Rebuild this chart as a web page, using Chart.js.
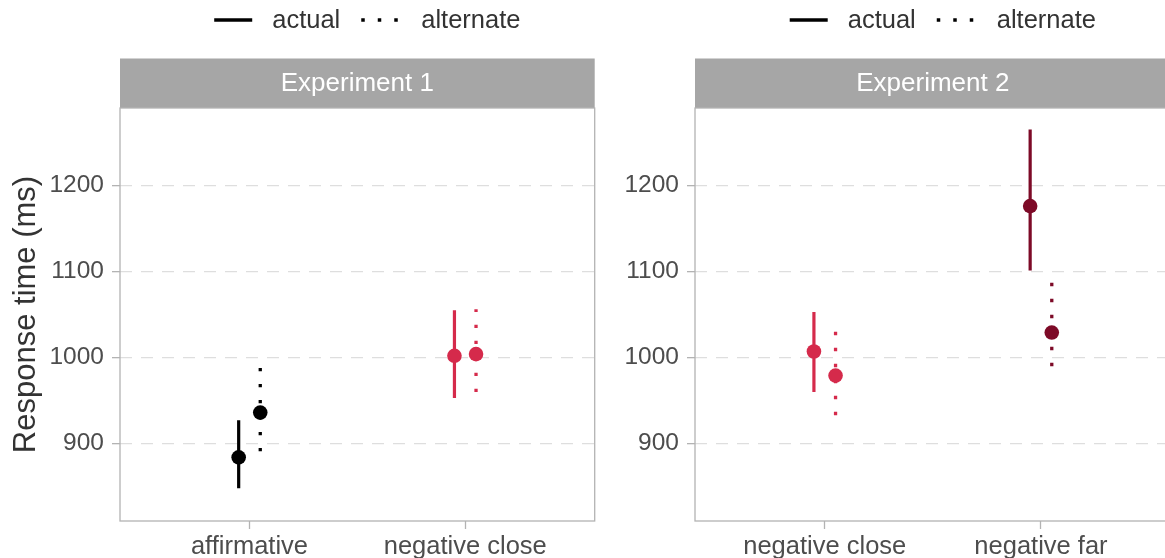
<!DOCTYPE html>
<html><head><meta charset="utf-8">
<script src="https://cdn.jsdelivr.net/npm/chart.js@4.4.1/dist/chart.umd.min.js"></script>
<style>
html,body{margin:0;padding:0;background:#fff;overflow:hidden;width:1165px;height:558px;position:relative;}
canvas{position:absolute;top:0;}
#c1{left:0;}
#c2{left:600px;}
</style></head><body>
<canvas id="c1" width="602" height="558"></canvas>
<canvas id="c2" width="578" height="558"></canvas>
<script>
// ---------- data ----------
const panelTitles = ['Experiment 1', 'Experiment 2'];
const yAxisTitle = 'Response time (ms)';
const legendLabels = ['actual', 'alternate'];
const yTickValues = [900, 1000, 1100, 1200];

const categories1 = ['affirmative', 'negative close'];
const exp1ActualMean = [884, 1002];
const exp1ActualLow = [848, 953];
const exp1ActualHigh = [927, 1055];
const exp1AlternateMean = [936, 1004];
const exp1AlternateLow = [891, 960];
const exp1AlternateHigh = [988, 1056];

const categories2 = ['negative close', 'negative far'];
const exp2ActualMean = [1007, 1176];
const exp2ActualLow = [960, 1101];
const exp2ActualHigh = [1053, 1265];
const exp2AlternateMean = [979, 1029];
const exp2AlternateLow = [933, 990];
const exp2AlternateHigh = [1031, 1088];

// ---------- styles ----------
const colors1 = ['#000000', '#D52A4B'];
const colors2 = ['#D52A4B', '#7D0A27'];
const FONT = '"Liberation Sans", Arial, Helvetica, sans-serif';
const DODGE = 0.05;
const DOT_DASH = [3.3, 12.7];
Chart.defaults.font.family = FONT;

function buildDatasets(colors, act, actLo, actHi, alt, altLo, altHi) {
  const ds = [];
  ds.push({ label: legendLabels[0], data: act.map((v, i) => ({ x: i + 1 - DODGE, y: v })),
    pointBackgroundColor: colors, pointBorderWidth: 0, pointRadius: 7.3, pointHoverRadius: 7.3, showLine: false });
  ds.push({ label: legendLabels[1], data: alt.map((v, i) => ({ x: i + 1 + DODGE, y: v })),
    pointBackgroundColor: colors, pointBorderWidth: 0, pointRadius: 7.3, pointHoverRadius: 7.3, showLine: false });
  act.forEach((_, i) => {
    ds.push({ data: [{ x: i + 1 - DODGE, y: actLo[i] }, { x: i + 1 - DODGE, y: actHi[i] }],
      showLine: true, borderColor: colors[i], borderWidth: 3.2, borderCapStyle: 'butt', pointRadius: 0, pointHoverRadius: 0 });
    ds.push({ data: [{ x: i + 1 + DODGE, y: altLo[i] }, { x: i + 1 + DODGE, y: altHi[i] }],
      showLine: true, borderColor: colors[i], borderWidth: 3.3, borderDash: DOT_DASH, borderCapStyle: 'butt', pointRadius: 0, pointHoverRadius: 0 });
  });
  return ds;
}

function decorPlugin(title) {
  return { id: 'decor', afterDraw(chart) {
      const { ctx, chartArea: a } = chart;
      const stripTop = a.top - 49.5;
      ctx.save();
      // facet strip
      ctx.fillStyle = '#A6A6A6';
      ctx.fillRect(a.left, stripTop, a.right - a.left, a.top - stripTop);
      ctx.fillStyle = '#FFFFFF'; ctx.font = '26px ' + FONT; ctx.textAlign = 'center'; ctx.textBaseline = 'middle';
      ctx.fillText(title, (a.left + a.right) / 2, (stripTop + a.top) / 2 + 1);
      // panel border
      ctx.strokeStyle = '#B3B3B3'; ctx.lineWidth = 1.3;
      ctx.strokeRect(a.left, a.top, a.right - a.left, a.bottom - a.top);
      // legend
      ctx.font = '25.5px ' + FONT;
      const keyW = 38;
      const w0 = ctx.measureText(legendLabels[0]).width;
      const w1 = ctx.measureText(legendLabels[1]).width;
      const total = keyW + 20 + w0 + 21 + keyW + 22 + w1;
      let x = (a.left + a.right) / 2 + 10 - total / 2;
      const y = 20;
      ctx.strokeStyle = '#000000'; ctx.lineWidth = 3.5; ctx.lineCap = 'butt'; ctx.setLineDash([]);
      ctx.beginPath(); ctx.moveTo(x, y); ctx.lineTo(x + keyW, y); ctx.stroke();
      x += keyW + 20;
      ctx.fillStyle = '#333333'; ctx.textAlign = 'left';
      ctx.fillText(legendLabels[0], x, y + 1);
      x += w0 + 21;
      ctx.setLineDash([3.5, 13]);
      ctx.beginPath(); ctx.moveTo(x, y); ctx.lineTo(x + keyW, y); ctx.stroke();
      ctx.setLineDash([]);
      x += keyW + 22;
      ctx.fillText(legendLabels[1], x, y + 1);
      ctx.restore();
    } };
}

function makeChart(id, cats, colors, datasets, yWidth, showTitle, title) {
  return new Chart(document.getElementById(id), {
    type: 'scatter', data: { datasets },
    options: {
      responsive: false, animation: false, devicePixelRatio: 1,
      layout: { padding: { top: 108, right: 0, left: 0, bottom: 0 } },
      plugins: { legend: { display: false }, tooltip: { enabled: false } },
      events: [],
      scales: {
        x: { type: 'linear', min: 0.4, max: 2.6,
          afterBuildTicks: s => { s.ticks = cats.map((c, i) => ({ value: i + 1 })); },
          afterFit: s => { s.height = 37; s.paddingLeft = 0; s.paddingRight = 0; },
          ticks: { callback: v => cats[v - 1], autoSkip: false, maxRotation: 0, font: { size: 25.5 }, color: '#4D4D4D', padding: 3 },
          grid: { drawOnChartArea: false, drawTicks: true, tickLength: 8, tickColor: '#B3B3B3', tickWidth: 1.3 },
          border: { display: false } },
        y: { type: 'linear', min: 810, max: 1290,
          afterBuildTicks: s => { s.ticks = yTickValues.map(v => ({ value: v })); },
          afterFit: s => { s.width = yWidth; s.paddingTop = 0; s.paddingBottom = 0; },
          ticks: { callback: v => String(v), font: { size: 24.5 }, color: '#4D4D4D', padding: 8 },
          grid: { color: '#DEDEDE', lineWidth: 1.3, drawTicks: true, tickLength: 8, tickColor: '#B3B3B3', tickWidth: 1.3 },
          border: { display: false, dash: [12, 9] },
          title: { display: showTitle, text: yAxisTitle, color: '#333333', font: { size: 31 }, padding: { top: 8, bottom: 0 } } }
      }
    },
    plugins: [decorPlugin(title)]
  });
}

makeChart('c1', categories1, colors1,
  buildDatasets(colors1, exp1ActualMean, exp1ActualLow, exp1ActualHigh, exp1AlternateMean, exp1AlternateLow, exp1AlternateHigh),
  120, true, panelTitles[0]);
makeChart('c2', categories2, colors2,
  buildDatasets(colors2, exp2ActualMean, exp2ActualLow, exp2ActualHigh, exp2AlternateMean, exp2AlternateLow, exp2AlternateHigh),
  95, false, panelTitles[1]);
</script>
</body></html>
